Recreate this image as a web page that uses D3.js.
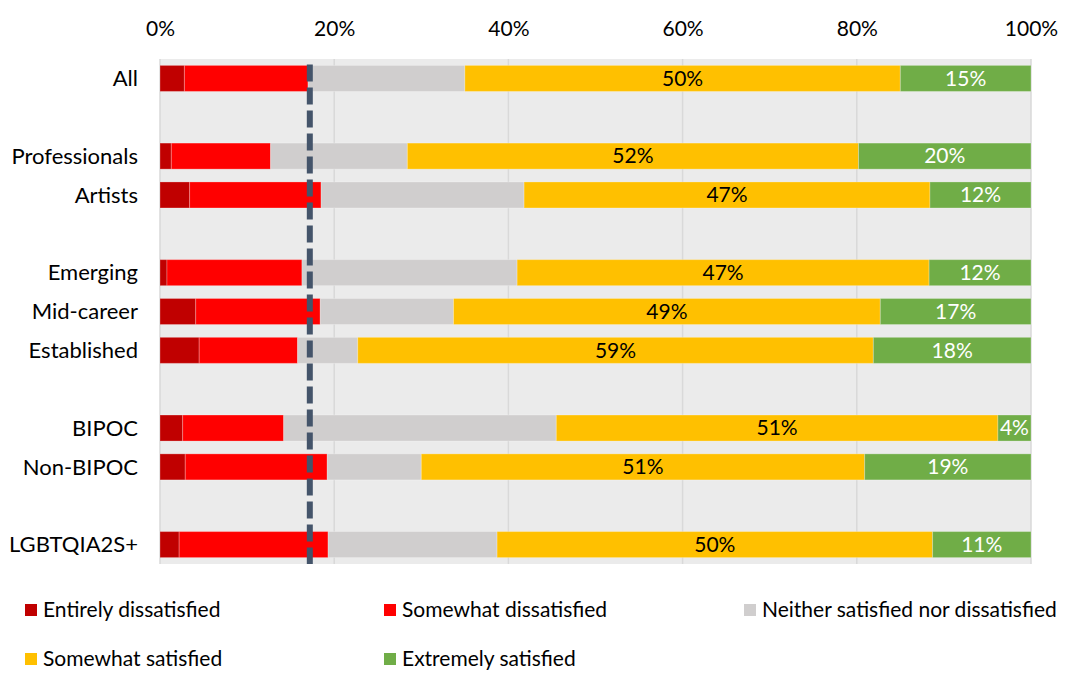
<!DOCTYPE html>
<html>
<head>
<meta charset="utf-8">
<script src="https://cdn.jsdelivr.net/npm/d3@7"></script>
<style>
  html, body { margin: 0; padding: 0; background: #ffffff; }
  svg { display: block; font-family: Lato, "Open Sans", sans-serif; }
</style>
</head>
<body>
<svg id="chart" width="1065" height="673"></svg>
<script>
// Row labels top to bottom; empty strings are spacer rows between groups
const rowLabels = ["All", "", "Professionals", "Artists", "", "Emerging", "Mid-career", "Established", "", "BIPOC", "Non-BIPOC", "", "LGBTQIA2S+"];
const categories = ["All", "Professionals", "Artists", "Emerging", "Mid-career", "Established", "BIPOC", "Non-BIPOC", "LGBTQIA2S+"];

// Share of respondents (%) per category
const entirelyDissatisfied = [2.8, 1.3, 3.4, 0.8, 4.1, 4.5, 2.6, 2.9, 2.2];
const somewhatDissatisfied = [14.2, 11.4, 15.1, 15.5, 14.3, 11.3, 11.6, 16.3, 17.1];
const neitherSatisfied     = [18.0, 15.7, 23.3, 24.7, 15.3, 6.9, 31.3, 10.8, 19.4];
const somewhatSatisfied    = [50.0, 51.8, 46.6, 47.3, 49.0, 59.2, 50.7, 50.9, 50.0];
const extremelySatisfied   = [15.0, 19.8, 11.6, 11.7, 17.3, 18.1, 3.8, 19.1, 11.3];

const seriesNames = ["Entirely dissatisfied", "Somewhat dissatisfied", "Neither satisfied nor dissatisfied", "Somewhat satisfied", "Extremely satisfied"];
const seriesColors = ["#C00000", "#FF0000", "#D0CECE", "#FFC000", "#70AD47"];
const labelColors = [null, null, null, "#000000", "#ffffff"];

const xTicks = [0, 20, 40, 60, 80, 100];
const referenceValue = 17.2; // overall dissatisfaction benchmark

const seriesValues = [entirelyDissatisfied, somewhatDissatisfied, neitherSatisfied, somewhatSatisfied, extremelySatisfied];
const rows = categories.map((c, i) => {
  const r = { category: c };
  seriesNames.forEach((s, k) => { r[s] = seriesValues[k][i]; });
  return r;
});

const svg = d3.select("#chart");
const plot = { left: 160, right: 1031, top: 59, bottom: 564 };

const x = d3.scaleLinear().domain([0, 100]).range([plot.left, plot.right]);
const y = d3.scaleBand().domain(d3.range(rowLabels.length)).range([plot.top, plot.bottom]).paddingInner(0.33).paddingOuter(0.165);
const rowIndex = c => rowLabels.indexOf(c);

// Plot background
svg.append("rect")
  .attr("x", plot.left).attr("y", plot.top)
  .attr("width", plot.right - plot.left).attr("height", plot.bottom - plot.top)
  .attr("fill", "#EBEBEB");

// Vertical gridlines
svg.append("g").selectAll("line").data(xTicks).join("line")
  .attr("x1", d => x(d)).attr("x2", d => x(d))
  .attr("y1", plot.top).attr("y2", plot.bottom)
  .attr("stroke", "#D9D9D9").attr("stroke-width", 1.5);

// Top axis
const axis = d3.axisTop(x).tickValues(xTicks).tickFormat(d => d + "%").tickSize(0).tickPadding(0);
const axisG = svg.append("g").attr("transform", "translate(0,36)").call(axis);
axisG.select(".domain").remove();
axisG.selectAll("text").attr("font-size", 21).attr("fill", "#000").attr("font-family", "Lato, 'Open Sans', sans-serif").attr("dy", 0);

// Stacked bars
const stack = d3.stack().keys(seriesNames);
const stacked = stack(rows);

const layers = svg.append("g").selectAll("g").data(stacked).join("g")
  .attr("fill", (d, i) => seriesColors[i]);

layers.selectAll("rect").data(d => d).join("rect")
  .attr("x", d => x(d[0]))
  .attr("width", d => x(d[1]) - x(d[0]))
  .attr("y", d => y(rowIndex(d.data.category)))
  .attr("height", y.bandwidth())
  .attr("stroke", "rgba(255,255,255,0.25)")
  .attr("stroke-width", 1);

// Value labels on the satisfied segments
stacked.forEach((layer, k) => {
  if (!labelColors[k]) return;
  svg.append("g").selectAll("text").data(layer).join("text")
    .attr("x", d => (x(d[0]) + x(d[1])) / 2)
    .attr("y", d => y(rowIndex(d.data.category)) + y.bandwidth() / 2)
    .attr("dy", "0.35em")
    .attr("text-anchor", "middle")
    .attr("font-size", 21)
    .attr("fill", labelColors[k])
    .text(d => Math.round(d[1] - d[0]) + "%");
});

// Category labels
svg.append("g").selectAll("text").data(categories).join("text")
  .attr("x", 138)
  .attr("y", c => y(rowIndex(c)) + y.bandwidth() / 2)
  .attr("dy", "0.35em")
  .attr("text-anchor", "end")
  .attr("font-size", 22)
  .attr("fill", "#000")
  .text(c => c);

// Dashed benchmark line
svg.append("line")
  .attr("x1", x(referenceValue)).attr("x2", x(referenceValue))
  .attr("y1", y(0) - 1).attr("y2", plot.bottom)
  .attr("stroke", "#44546A").attr("stroke-width", 6)
  .attr("stroke-dasharray", "17 6");

// Legend
const legendPos = [[25, 610], [384, 610], [744, 610], [25, 659], [384, 659]];
const legend = svg.append("g").selectAll("g").data(seriesNames).join("g")
  .attr("transform", (d, i) => `translate(${legendPos[i][0]},${legendPos[i][1]})`);
legend.append("rect")
  .attr("x", 0).attr("y", -6).attr("width", 12).attr("height", 12)
  .attr("fill", (d, i) => seriesColors[i]);
legend.append("text")
  .attr("x", 18).attr("dy", "0.35em")
  .attr("font-size", 21).attr("fill", "#000")
  .text(d => d);
</script>
</body>
</html>
